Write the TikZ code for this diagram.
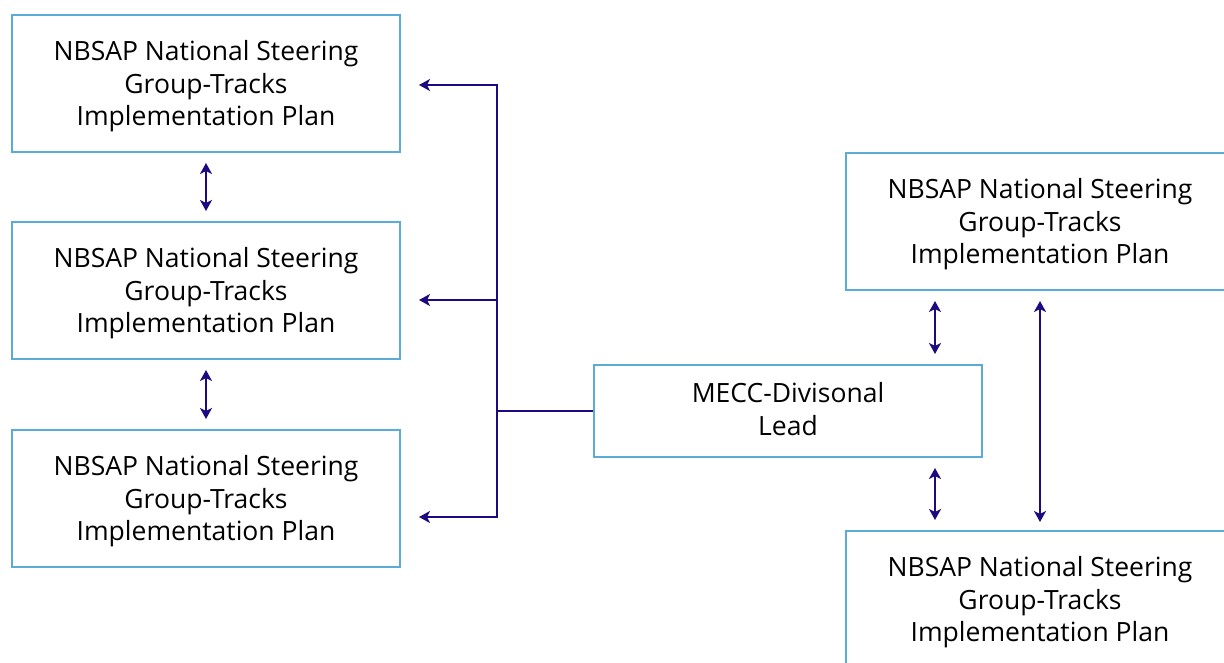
\documentclass[tikz,border=0pt]{standalone}
\usepackage{fontspec}
\setmainfont{Open Sans}
\usetikzlibrary{arrows.meta,calc}
\definecolor{boxline}{RGB}{92,170,214}
\definecolor{navy}{RGB}{28,10,128}
\tikzset{
  plan/.style={draw=boxline, line width=2pt, minimum width=388pt, minimum height=137pt,
    align=center, inner sep=0pt, text depth=0.4pt, font=\fontsize{26.5}{32.5}\selectfont},
  lead/.style={plan, minimum height=92pt, text depth=4pt},
  link/.style={draw=navy, line width=2.4pt},
  tipped/.style={link, -{Stealth[length=11pt,width=12pt,inset=3pt]}},
  both/.style={link, {Stealth[length=11pt,width=12pt,inset=3pt]}-{Stealth[length=11pt,width=12pt,inset=3pt]}, shorten <=10pt, shorten >=10pt}
}
\begin{document}
\begin{tikzpicture}[x=1pt,y=-1pt]
\useasboundingbox (0,0) rectangle (1224,662);
\clip (0,0) rectangle (1224,662);

% left column of plans
\node[plan] (l1) at (206,83.5) {NBSAP National Steering\\Group-Tracks\\Implementation Plan};
\node[plan] (l2) at (206,290.5) {NBSAP National Steering\\Group-Tracks\\Implementation Plan};
\node[plan] (l3) at (206,498.5) {NBSAP National Steering\\Group-Tracks\\Implementation Plan};

% divisional lead
\node[lead] (mid) at (788,411) {MECC-Divisonal\\Lead};

% right column of plans
\node[plan] (r1) at (1040,221.5) {NBSAP National Steering\\Group-Tracks\\Implementation Plan};
\node[plan] (r2) at (1040,599.5) {NBSAP National Steering\\Group-Tracks\\Implementation Plan};

% distribution bus from the lead to the left column
\coordinate (bus) at (497,411);
\draw[link] (mid.west) -- (bus);
\draw[tipped, shorten >=18pt] (bus) |- ([yshift=-1.5pt]l1.east);
\draw[tipped, shorten >=18pt] (bus) |- ([yshift=-9.5pt]l2.east);
\draw[tipped, shorten >=18pt] (bus) |- ([yshift=-18.5pt]l3.east);

% links within the left column
\draw[both] (l1.south) -- (l2.north);
\draw[both] (l2.south) -- (l3.north);

% links on the right side
\draw[both] ([xshift=147pt]mid.north |- r1.south) -- ([xshift=147pt]mid.north);
\draw[both] ([xshift=147pt]mid.south) -- ([xshift=147pt]mid.south |- r2.north);
\draw[both, shorten >=8pt] (r1.south) -- (r2.north);
\end{tikzpicture}
\end{document}
